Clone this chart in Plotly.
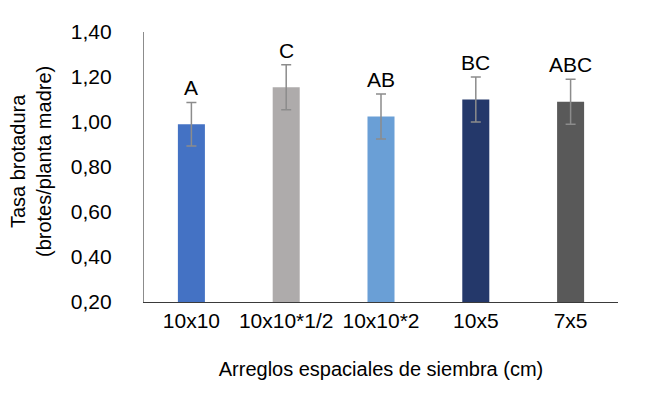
import plotly.graph_objects as go

categories = ["10x10", "10x10*1/2", "10x10*2", "10x5", "7x5"]
values = [0.99, 1.155, 1.025, 1.10, 1.09]
errors = [0.097, 0.10, 0.10, 0.10, 0.10]
letters = ["A", "C", "AB", "BC", "ABC"]
colors = ["#4472C4", "#AEABAB", "#6A9FD6", "#24386A", "#595959"]

FONT = "Liberation Sans, Arial"

fig = go.Figure()
fig.add_trace(go.Bar(
    x=categories, y=values,
    marker=dict(color=colors, line=dict(width=0)),
    error_y=dict(type="data", array=errors, visible=True, color="#8C8C8C",
                 thickness=1.5, width=5),
    showlegend=False,
))

for c, v, e, t in zip(categories, values, errors, letters):
    fig.add_annotation(x=c, y=v + e, text=t, showarrow=False, yanchor="bottom",
                       yshift=1, font=dict(family=FONT, size=21, color="#000000"))

# y-axis title (two lines, rotated)
fig.add_annotation(xref="paper", yref="paper", x=0, y=0.5, xanchor="center", yanchor="middle",
                   xshift=-113, yshift=5, textangle=-90, showarrow=False,
                   text="Tasa brotadura<br>(brotes/planta madre)",
                   font=dict(family=FONT, size=20, color="#000000"))

fig.update_layout(
    width=670, height=395,
    margin=dict(l=136, r=60, t=22, b=101),
    paper_bgcolor="white", plot_bgcolor="white",
    separators=",.",
    bargap=0.715,
    font=dict(family=FONT, size=21, color="#000000"),
    xaxis=dict(
        showline=True, linecolor="#3a3a3a", linewidth=1.2, ticks="",
        tickfont=dict(size=21),
        title=dict(text="Arreglos espaciales de siembra (cm)", font=dict(size=20), standoff=30),
    ),
    yaxis=dict(
        range=[0.2, 1.4], dtick=0.2, tickformat=".2f", showgrid=False,
        showline=True, linecolor="#8C8C8C", linewidth=1.2, ticks="", zeroline=False,
        tickfont=dict(size=21), ticklabelstandoff=27,
    ),
)

fig.write_html("out.html")
